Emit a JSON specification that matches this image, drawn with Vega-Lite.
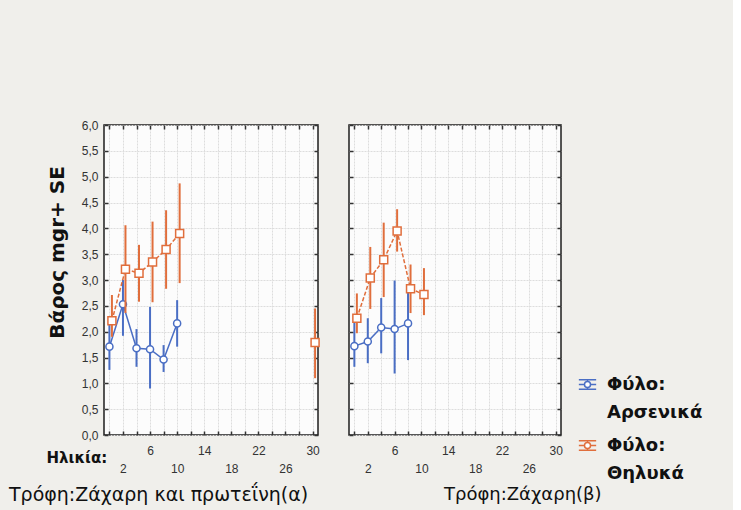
{
  "$schema": "https://vega.github.io/schema/vega-lite/v6.json",
  "background": "#f0efeb",
  "padding": {"left": 8, "top": 118, "right": 30, "bottom": 4},
  "datasets": {
    "weights": [
      {"diet": "a", "sex": "Αρσενικά", "age": 0, "mean": 1.71, "lo": 1.26, "hi": 2.2},
      {"diet": "a", "sex": "Αρσενικά", "age": 2, "mean": 2.53, "lo": 1.92, "hi": 3.0},
      {"diet": "a", "sex": "Αρσενικά", "age": 4, "mean": 1.68, "lo": 1.32, "hi": 2.05},
      {"diet": "a", "sex": "Αρσενικά", "age": 6, "mean": 1.66, "lo": 0.9, "hi": 2.48},
      {"diet": "a", "sex": "Αρσενικά", "age": 8, "mean": 1.46, "lo": 1.22, "hi": 1.74},
      {"diet": "a", "sex": "Αρσενικά", "age": 10, "mean": 2.16, "lo": 1.71, "hi": 2.61},
      {"diet": "a", "sex": "Θηλυκά", "age": 0, "mean": 2.21, "lo": 1.9, "hi": 2.71},
      {"diet": "a", "sex": "Θηλυκά", "age": 2, "mean": 3.21, "lo": 2.36, "hi": 4.06},
      {"diet": "a", "sex": "Θηλυκά", "age": 4, "mean": 3.13, "lo": 2.58, "hi": 3.68},
      {"diet": "a", "sex": "Θηλυκά", "age": 6, "mean": 3.35, "lo": 2.57, "hi": 4.13},
      {"diet": "a", "sex": "Θηλυκά", "age": 8, "mean": 3.59, "lo": 2.83, "hi": 4.35},
      {"diet": "a", "sex": "Θηλυκά", "age": 10, "mean": 3.9, "lo": 2.94, "hi": 4.87},
      {"diet": "a", "sex": "Θηλυκά", "age": 30, "mean": 1.79, "lo": 1.1, "hi": 2.45},
      {"diet": "b", "sex": "Αρσενικά", "age": 0, "mean": 1.72, "lo": 1.32, "hi": 2.17},
      {"diet": "b", "sex": "Αρσενικά", "age": 2, "mean": 1.81, "lo": 1.39, "hi": 2.26},
      {"diet": "b", "sex": "Αρσενικά", "age": 4, "mean": 2.08, "lo": 1.58, "hi": 2.65},
      {"diet": "b", "sex": "Αρσενικά", "age": 6, "mean": 2.05, "lo": 1.19, "hi": 2.99},
      {"diet": "b", "sex": "Αρσενικά", "age": 8, "mean": 2.16, "lo": 1.45, "hi": 2.8},
      {"diet": "b", "sex": "Θηλυκά", "age": 0, "mean": 2.26, "lo": 1.97, "hi": 2.74},
      {"diet": "b", "sex": "Θηλυκά", "age": 2, "mean": 3.04, "lo": 2.44, "hi": 3.64},
      {"diet": "b", "sex": "Θηλυκά", "age": 4, "mean": 3.39, "lo": 2.67, "hi": 4.11},
      {"diet": "b", "sex": "Θηλυκά", "age": 6, "mean": 3.95, "lo": 3.55, "hi": 4.37},
      {"diet": "b", "sex": "Θηλυκά", "age": 8, "mean": 2.83, "lo": 2.36, "hi": 3.3},
      {"diet": "b", "sex": "Θηλυκά", "age": 10, "mean": 2.72, "lo": 2.32, "hi": 3.23}
    ]
  },
  "config": {
    "view": {"stroke": "#1e1e1e", "strokeWidth": 1.5, "fill": "#fcfcfc"},
    "axis": {
      "labelFont": "Liberation Sans",
      "labelFontSize": 12,
      "labelColor": "#333333",
      "labelOverlap": false,
      "tickColor": "#333333",
      "tickWidth": 1.5,
      "tickSize": -4,
      "domain": false,
      "gridColor": "#dddddd",
      "gridDash": [2, 1],
      "gridWidth": 1
    }
  },
  "hconcat": [
    {
      "width": 214,
      "height": 310,
      "data": {"name": "weights"},
      "transform": [{"filter": "datum.diet == 'a'"}],
      "title": {
        "text": "Τρόφη:Ζάχαρη και πρωτεΐνη(α)",
        "orient": "bottom",
        "anchor": "start",
        "frame": "group",
        "dx": -95,
        "offset": 12,
        "font": "DejaVu Sans",
        "fontSize": 19,
        "fontWeight": "normal",
        "color": "#111111"
      },
      "resolve": {"axis": {"x": "independent", "y": "independent"}},
      "layer": [
        {
          "encoding": {
            "x": {
              "field": "age",
              "type": "quantitative",
              "scale": {"domain": [-0.8, 30.8], "nice": false, "zero": false},
              "axis": {
                "values": [0, 2, 4, 6, 8, 10, 12, 14, 16, 18, 20, 22, 24, 26, 28, 30],
                "labelExpr": "datum.value % 4 == 2 ? datum.label : ''",
                "labelPadding": {"condition": {"test": "datum.value % 8 == 2", "value": 32}, "value": 14},
                "labelBaseline": "top",
                "title": "Ηλικία:",
                "titleFont": "DejaVu Sans",
                "titleFontSize": 15,
                "titleFontWeight": "bold",
                "titleColor": "#111111",
                "titleAnchor": "start",
                "titleAlign": "left",
                "titleBaseline": "alphabetic",
                "titleX": -58,
                "titleY": 27
              }
            },
            "y": {
              "field": "mean",
              "type": "quantitative",
              "title": "Βάρος mgr+ SE",
              "scale": {"domain": [0, 6], "nice": false, "zero": false},
              "axis": {
                "values": [0, 0.5, 1, 1.5, 2, 2.5, 3, 3.5, 4, 4.5, 5, 5.5, 6],
                "labelExpr": "replace(format(datum.value, '.1f'), '.', ',')",
                "labelOverlap": false,
                "labelPadding": 10,
                "titleFont": "DejaVu Sans",
                "titleFontSize": 20,
                "titleFontWeight": "bold",
                "titleColor": "#111111",
                "titleAlign": "center",
                "titleBaseline": "middle",
                "titleAngle": -90,
                "titleX": -47,
                "titleY": 127
              }
            },
            "color": {
              "field": "sex",
              "type": "nominal",
              "scale": {"domain": ["Αρσενικά", "Θηλυκά"], "range": ["#4a6ec4", "#e06e3c"]},
              "legend": {
                "orient": "none",
                "legendX": 474,
                "legendY": 250,
                "title": null,
                "labelExpr": "['Φύλο:', datum.label]",
                "labelFont": "DejaVu Sans",
                "labelFontSize": 18,
                "labelFontWeight": "bold",
                "labelColor": "#111111",
                "labelBaseline": "middle",
                "symbolType": "M-1,-0.55H1M-1,0H-0.35M0.35,0H1M-1,0.55H1M0,-0.55V-0.35M0,0.35V0.55M-0.35,0A0.35,0.35 0 1 1 0.35,0A0.35,0.35 0 1 1 -0.35,0",
                "symbolSize": 300,
                "symbolStrokeWidth": 1.5,
                "symbolFillColor": "#ffffff",
                "rowPadding": 14,
                "labelOffset": 10,
                "encode": {"labels": {"update": {"lineHeight": {"value": 28}}}}
              }
            }
          },
          "layer": [
            {
              "transform": [{"filter": "datum.sex == 'Αρσενικά'"}],
              "mark": {"type": "rule", "strokeWidth": 2},
              "encoding": {"y": {"field": "lo", "type": "quantitative"}, "y2": {"field": "hi"}}
            },
            {
              "transform": [{"filter": "datum.sex == 'Αρσενικά'"}],
              "mark": {"type": "line", "strokeWidth": 1.5}
            },
            {
              "transform": [{"filter": "datum.sex == 'Αρσενικά'"}],
              "mark": {"type": "point", "shape": "circle", "filled": false, "fill": "#ffffff", "fillOpacity": 1, "size": 50, "strokeWidth": 1.5, "opacity": 1}
            },
            {
              "transform": [{"filter": "datum.sex == 'Θηλυκά'"}],
              "mark": {"type": "rule", "strokeWidth": 2, "xOffset": 2.5},
              "encoding": {"y": {"field": "lo", "type": "quantitative"}, "y2": {"field": "hi"}}
            },
            {
              "transform": [{"filter": "datum.sex == 'Θηλυκά' && datum.age <= 10"}],
              "mark": {"type": "line", "strokeWidth": 1.5, "strokeDash": [4, 2], "xOffset": 2.5}
            },
            {
              "transform": [{"filter": "datum.sex == 'Θηλυκά'"}],
              "mark": {"type": "point", "shape": "square", "filled": false, "fill": "#ffffff", "fillOpacity": 1, "size": 64, "strokeWidth": 1.5, "opacity": 1, "xOffset": 2.5}
            }
          ]
        },
        {
          "mark": {"type": "point", "opacity": 0},
          "encoding": {
            "x": {
              "field": "age",
              "type": "quantitative",
              "scale": {"domain": [-0.8, 30.8], "nice": false, "zero": false},
              "axis": {"orient": "top", "values": [0, 2, 4, 6, 8, 10, 12, 14, 16, 18, 20, 22, 24, 26, 28, 30], "labels": false, "grid": false, "title": null}
            },
            "y": {
              "field": "mean",
              "type": "quantitative",
              "scale": {"domain": [0, 6], "nice": false, "zero": false},
              "axis": {"orient": "right", "values": [0, 0.5, 1, 1.5, 2, 2.5, 3, 3.5, 4, 4.5, 5, 5.5, 6], "labels": false, "grid": false, "title": null}
            }
          }
        }
      ]
    },
    {
      "width": 212,
      "height": 310,
      "data": {"name": "weights"},
      "transform": [{"filter": "datum.diet == 'b'"}],
      "title": {
        "text": "Τρόφη:Ζάχαρη(β)",
        "orient": "bottom",
        "anchor": "start",
        "frame": "group",
        "dx": 95,
        "offset": 12,
        "font": "DejaVu Sans",
        "fontSize": 18,
        "fontWeight": "normal",
        "color": "#111111"
      },
      "resolve": {"axis": {"x": "independent", "y": "independent"}},
      "layer": [
        {
          "encoding": {
            "x": {
              "field": "age",
              "type": "quantitative",
              "scale": {"domain": [-0.8, 30.8], "nice": false, "zero": false},
              "axis": {
                "values": [0, 2, 4, 6, 8, 10, 12, 14, 16, 18, 20, 22, 24, 26, 28, 30],
                "labelExpr": "datum.value % 4 == 2 ? datum.label : ''",
                "labelPadding": {"condition": {"test": "datum.value % 8 == 2", "value": 32}, "value": 14},
                "labelBaseline": "top",
                "title": null
              }
            },
            "y": {
              "field": "mean",
              "type": "quantitative",
              "scale": {"domain": [0, 6], "nice": false, "zero": false},
              "axis": {
                "values": [0, 0.5, 1, 1.5, 2, 2.5, 3, 3.5, 4, 4.5, 5, 5.5, 6],
                "labels": false,
                "title": null
              }
            },
            "color": {
              "field": "sex",
              "type": "nominal",
              "scale": {"domain": ["Αρσενικά", "Θηλυκά"], "range": ["#4a6ec4", "#e06e3c"]}
            }
          },
          "layer": [
            {
              "transform": [{"filter": "datum.sex == 'Αρσενικά'"}],
              "mark": {"type": "rule", "strokeWidth": 2},
              "encoding": {"y": {"field": "lo", "type": "quantitative"}, "y2": {"field": "hi"}}
            },
            {
              "transform": [{"filter": "datum.sex == 'Αρσενικά'"}],
              "mark": {"type": "line", "strokeWidth": 1.5}
            },
            {
              "transform": [{"filter": "datum.sex == 'Αρσενικά'"}],
              "mark": {"type": "point", "shape": "circle", "filled": false, "fill": "#ffffff", "fillOpacity": 1, "size": 50, "strokeWidth": 1.5, "opacity": 1}
            },
            {
              "transform": [{"filter": "datum.sex == 'Θηλυκά'"}],
              "mark": {"type": "rule", "strokeWidth": 2, "xOffset": 2.5},
              "encoding": {"y": {"field": "lo", "type": "quantitative"}, "y2": {"field": "hi"}}
            },
            {
              "transform": [{"filter": "datum.sex == 'Θηλυκά'"}],
              "mark": {"type": "line", "strokeWidth": 1.5, "strokeDash": [4, 2], "xOffset": 2.5}
            },
            {
              "transform": [{"filter": "datum.sex == 'Θηλυκά'"}],
              "mark": {"type": "point", "shape": "square", "filled": false, "fill": "#ffffff", "fillOpacity": 1, "size": 64, "strokeWidth": 1.5, "opacity": 1, "xOffset": 2.5}
            }
          ]
        },
        {
          "mark": {"type": "point", "opacity": 0},
          "encoding": {
            "x": {
              "field": "age",
              "type": "quantitative",
              "scale": {"domain": [-0.8, 30.8], "nice": false, "zero": false},
              "axis": {"orient": "top", "values": [0, 2, 4, 6, 8, 10, 12, 14, 16, 18, 20, 22, 24, 26, 28, 30], "labels": false, "grid": false, "title": null}
            },
            "y": {
              "field": "mean",
              "type": "quantitative",
              "scale": {"domain": [0, 6], "nice": false, "zero": false},
              "axis": {"orient": "right", "values": [0, 0.5, 1, 1.5, 2, 2.5, 3, 3.5, 4, 4.5, 5, 5.5, 6], "labels": false, "grid": false, "title": null}
            }
          }
        }
      ]
    }
  ],
  "spacing": 24
}
